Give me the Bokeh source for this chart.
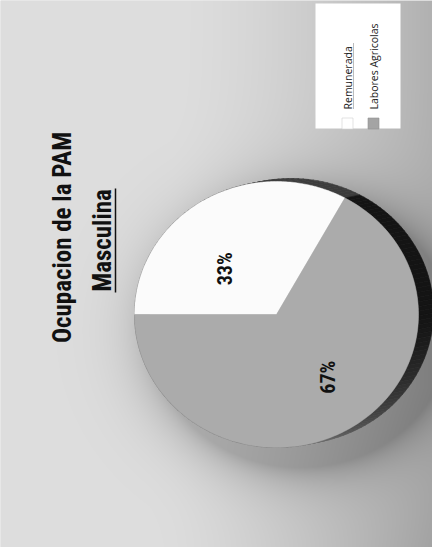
import numpy as np
from bokeh.plotting import figure
from bokeh.models import Range1d
from bokeh.core.properties import value
from bokeh.embed import file_html
from bokeh.resources import INLINE

# ---------------- data ----------------
categories = ["Remunerada", "Labores Agricolas"]
values = [33, 67]
pct_labels = ["33%", "67%"]
title_lines = ["Ocupacion de la PAM", "Masculina"]

# ---------------- style ----------------
W, H = 432, 547
CX, CY = 276.0, 233.0          # pie centre (plot px)
RX, RY = 142.0, 133.0          # top-surface ellipse radii
DEPTH = (15.0, 3.0)            # extrusion direction of the 3-D side
START = 180.0                  # first slice starts at the left, clockwise
slice_colors = ["#fbfbfb", "#ababab"]
label_frac = 0.6
label_nudge = [(-8, -23), (8, 6)]
TITLE_FONT = value("Liberation Sans Narrow, Roboto Condensed, Roboto")
LEG_FONT = value("Open Sans")

p = figure(width=W, height=H, x_range=Range1d(0, W), y_range=Range1d(0, H),
           output_backend="svg", toolbar_location=None, min_border=0,
           x_axis_type=None, y_axis_type=None)
p.grid.visible = False
p.outline_line_color = None
p.background_fill_color = "#d8d8d8"
p.border_fill_color = "#d8d8d8"

# ---------------- background gradient + soft shadow ----------------
yy, xx = np.mgrid[0:H, 0:W] + 0.5
base = 222 - 45 * np.clip((xx - 170) / (W - 170), 0, 1) ** 1.5
base -= 14 * np.clip((160 - yy) / 160, 0, 1) * np.clip((xx - 150) / (W - 150), 0, 1)
sx, sy = CX + 24, CY - 16
r = np.sqrt(((xx - sx) / (RX + 8)) ** 2 + ((yy - sy) / (RY + 4)) ** 2)
shadow = 50 * np.exp(-np.clip(r - 1, 0, None) / 0.16)
g = np.clip(base - shadow, 0, 255).astype(np.uint32)
bg = (np.uint32(255) << 24) | (g << 16) | (g << 8) | g
p.image_rgba(image=[bg], x=0, y=0, dw=W, dh=H)

# ---------------- pie geometry from data ----------------
vals = np.array(values, dtype=float)
fr = vals / vals.sum()
cum = np.concatenate([[0], np.cumsum(fr)])
starts = START - cum[:-1] * 360.0
ends = START - cum[1:] * 360.0


def pt(t_deg):
    t = np.radians(t_deg)
    return CX + RX * np.cos(t), CY + RY * np.sin(t)


# side of the pie (drawn first, top surface covers hidden parts)
side_xs, side_ys, side_cols = [], [], []
dx, dy = DEPTH
for i in range(len(vals)):
    ts = np.linspace(starts[i], ends[i], int(abs(starts[i] - ends[i]) / 2) + 2)
    for a, b in zip(ts[:-1], ts[1:]):
        x1, y1 = pt(a)
        x2, y2 = pt(b)
        side_xs.append([x1, x2, x2 + dx, x1 + dx])
        side_ys.append([y1, y2, y2 + dy, y1 + dy])
        m = ((a + b) / 2 + 360) % 360
        m = m - 360 if m > 180 else m
        if i == 0:
            c = 60
        else:
            if m >= 0:
                c = 20
            else:
                c = int(20 + 90 * min(1, (-m) / 80.0) ** 1.3)
        side_cols.append("#%02x%02x%02x" % (c, c, c))
p.patches(side_xs, side_ys, fill_color=side_cols, line_color=side_cols, line_width=0.6)

# top surface
top_xs, top_ys = [], []
for i in range(len(vals)):
    ts = np.linspace(starts[i], ends[i], 200)
    ax, ay = pt(ts)
    top_xs.append([CX] + list(ax))
    top_ys.append([CY] + list(ay))
p.patches(top_xs, top_ys, fill_color=slice_colors, line_color=slice_colors, line_width=0.5)

# percentage labels
mids = (starts + ends) / 2
lx, ly = [], []
for i, m in enumerate(mids):
    t = np.radians(m)
    lx.append(CX + label_frac * RX * np.cos(t) + label_nudge[i][0])
    ly.append(CY + label_frac * RY * np.sin(t) + label_nudge[i][1])
p.text(lx, ly, text=pct_labels, angle=np.pi / 2, text_align="center",
       text_baseline="middle", text_font=TITLE_FONT, text_font_size="20px",
       text_font_style="bold", text_color="#111111")

# ---------------- legend ----------------
LX0, LX1, LY0, LY1 = 315, 400, 419, 544
p.quad(left=LX0, right=LX1, bottom=LY0, top=LY1, fill_color="white", line_color=None)
leg_colors = ["#ffffff", "#a4a4a4"]
for i, cat in enumerate(categories):
    xc = 347 + 26 * i
    p.rect(x=xc, y=424, width=11, height=11, fill_color=leg_colors[i],
           line_color="#d0d0d0" if i == 0 else "#909090", line_width=0.6)
    p.text([xc], [438], text=[cat], angle=np.pi / 2, text_align="left",
           text_baseline="middle", text_font=LEG_FONT, text_font_size="10.5px",
           text_color="#222222")
p.segment(x0=[353], y0=[439], x1=[353], y1=[505], line_color="#555555",
          line_width=0.8, line_dash="1 1")

# ---------------- title ----------------
p.text([62, 102], [310, 307], text=title_lines, angle=np.pi / 2, text_align="center",
       text_baseline="middle", text_font=TITLE_FONT, text_font_size="25px",
       text_font_style="bold", text_color="#111111")
p.segment(x0=[115], y0=[255], x1=[115], y1=[359], line_color="#111111", line_width=1.5)

open("out.html", "w").write(file_html(p, INLINE))
